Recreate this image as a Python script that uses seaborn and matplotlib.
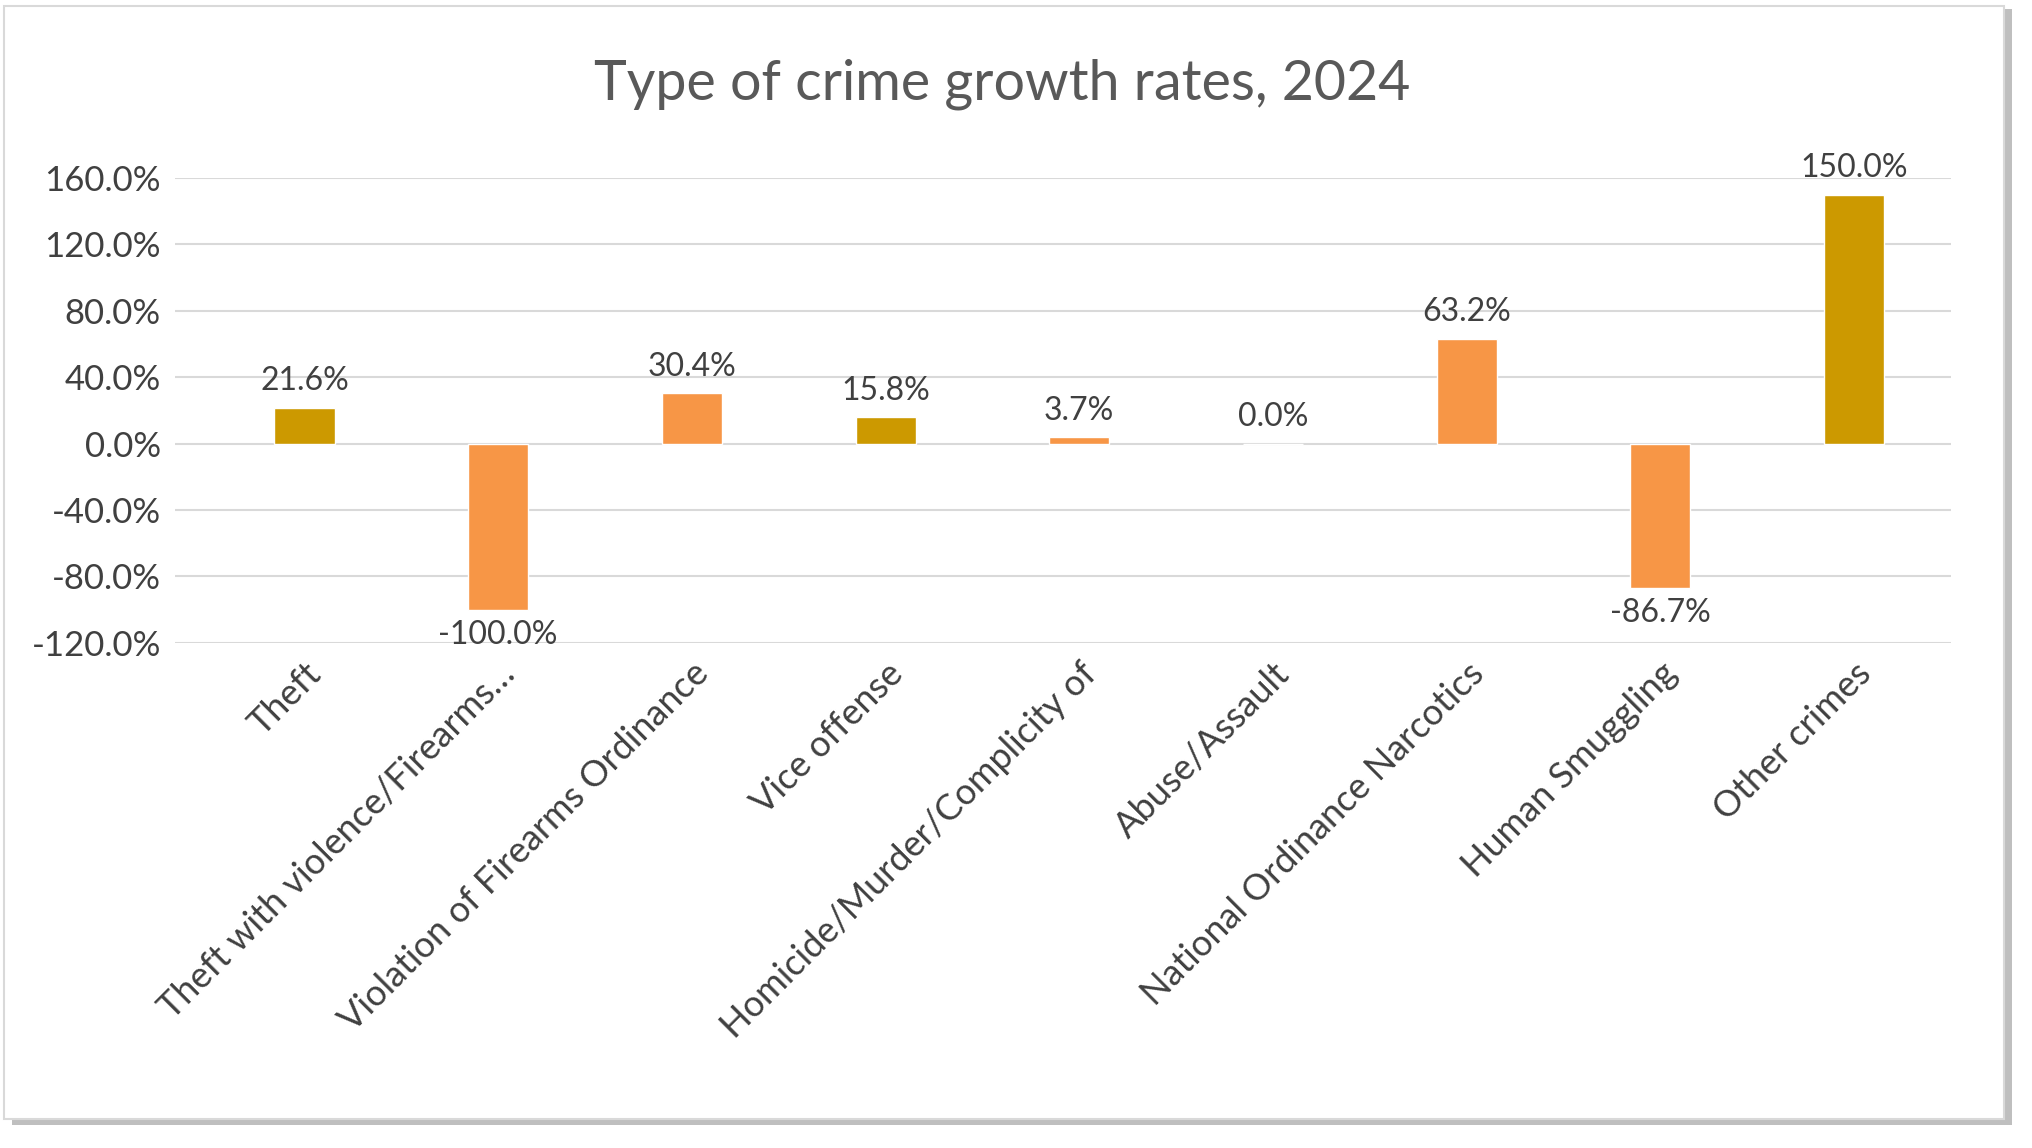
import matplotlib
matplotlib.use('Agg')
import matplotlib.pyplot as plt
import seaborn as sns
import pandas as pd
from matplotlib.patches import Rectangle

categories = ['Theft', 'Theft with violence/Firearms…', 'Violation of Firearms Ordinance',
              'Vice offense', 'Homicide/Murder/Complicity of', 'Abuse/Assault',
              'National Ordinance Narcotics', 'Human Smuggling', 'Other crimes']
growth = [21.6, -100.0, 30.4, 15.8, 3.7, 0.0, 63.2, -86.7, 150.0]
bar_colors = ['#CC9900', '#F79646', '#F79646', '#CC9900', '#F79646',
              '#F79646', '#F79646', '#F79646', '#CC9900']
yticks = [-120, -80, -40, 0, 40, 80, 120, 160]

sns.set_theme(style='white')
plt.rcParams['font.family'] = ['Lato', 'DejaVu Sans']

df = pd.DataFrame({'cat': categories, 'val': growth})

fig = plt.figure(figsize=(20.32, 11.48), dpi=100)
ax = fig.add_axes([0.086, 0.44, 0.874, 0.405])

sns.barplot(data=df, x='cat', y='val', hue='cat', palette=bar_colors,
            legend=False, width=0.31, ax=ax, saturation=1)

ax.set_xlim(-0.67, 8.5)
ax.set_ylim(-120, 160)
ax.set_yticks(yticks)
ax.set_yticklabels([f'{v:.1f}%' for v in yticks], fontsize=25, color='#404040')
ax.yaxis.grid(True, color='#D9D9D9', linewidth=1.5)
ax.set_axisbelow(True)
for s in ax.spines.values():
    s.set_visible(False)
ax.tick_params(axis='both', length=0, pad=10)
ax.set_xlabel('')
ax.set_ylabel('')
ax.set_xticks(range(len(categories)))
ax.set_xticklabels(categories, rotation=45, ha='right', rotation_mode='anchor',
                   fontsize=26, color='#404040')

for i, v in enumerate(growth):
    if v >= 0:
        ax.text(i, v + 7, f'{v:.1f}%', ha='center', va='bottom', fontsize=23, color='#404040')
    else:
        ax.text(i, v - 6, f'{v:.1f}%', ha='center', va='top', fontsize=23, color='#404040')

fig.text(0.493, 0.927, 'Type of crime growth rates, 2024', ha='center', va='center',
         fontsize=40, color='#595959')

# chart border with shadow
fig.patches.append(Rectangle((0.006, 0.02), 0.984, 0.972, transform=fig.transFigure,
                             facecolor='#BFBFBF', edgecolor='none', zorder=-2))
fig.patches.append(Rectangle((0.002, 0.025), 0.984, 0.97, transform=fig.transFigure,
                             facecolor='white', edgecolor='#D9D9D9', linewidth=1.5, zorder=-1))

fig.savefig('out.png', dpi=100)
